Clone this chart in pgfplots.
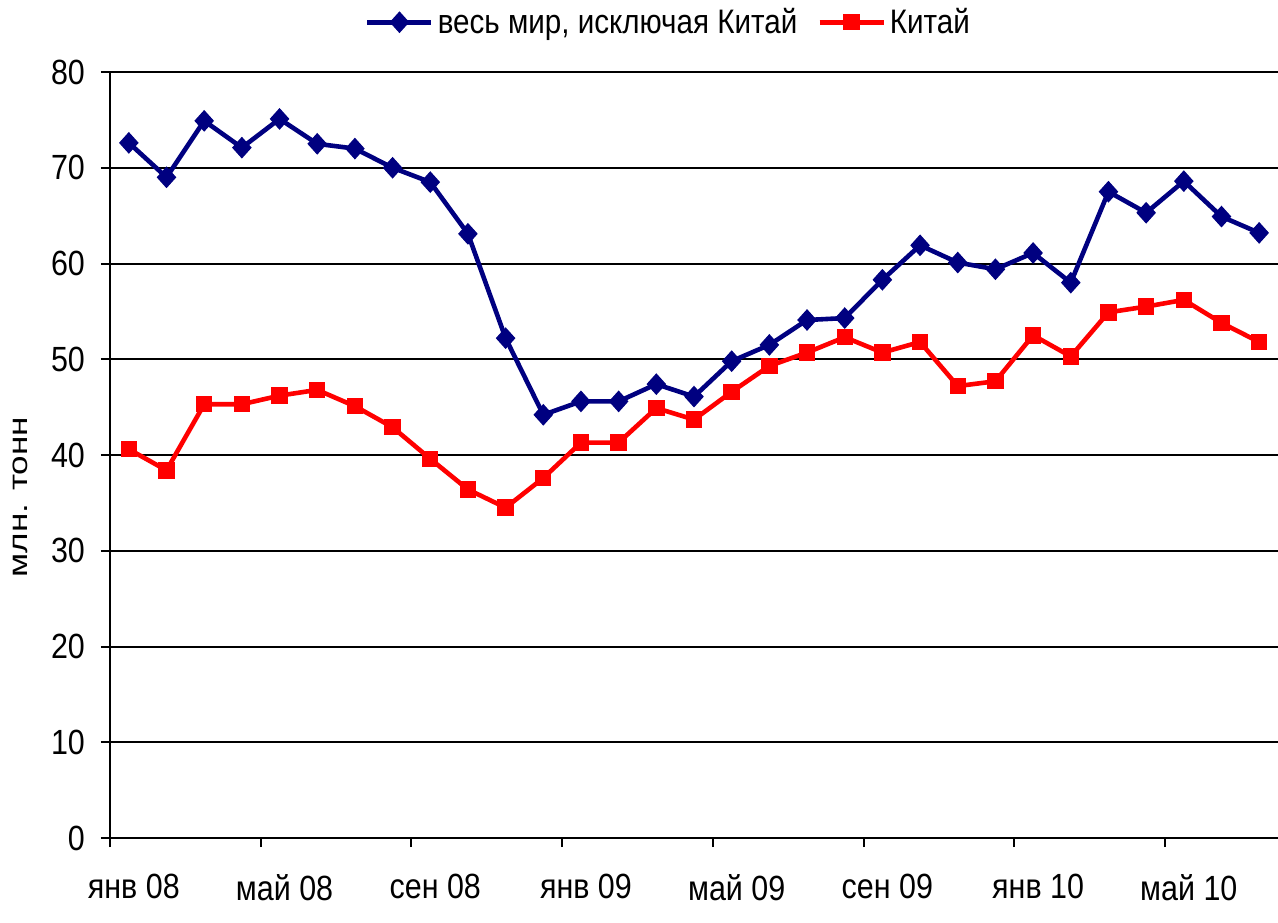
\documentclass[border=0pt]{standalone}
\usepackage{fontspec}
\setmainfont{Liberation Sans}[FakeStretch=0.87]
\newfontfamily\ylabfont{Liberation Sans}[FakeStretch=1.3]
\usepackage{pgfplots}
\pgfplotsset{compat=1.18}
\definecolor{navyb}{HTML}{000080}
\definecolor{redc}{HTML}{FF0000}
\begin{document}
\begin{tikzpicture}
\useasboundingbox (-55pt,-42pt) rectangle (584pt,419pt);
\begin{axis}[
  at={(0,0)}, anchor=south west,
  scale only axis, width=584pt, height=383pt,
  xmin=-0.5, xmax=30.5, ymin=0, ymax=80,
  axis x line=bottom, axis y line=left,
  axis line style={-, black, line width=1pt},
  ytick={0,10,...,80},
  ymajorgrids, grid style={black, line width=1pt},
  xtick={-0.5,3.5,...,27.5}, xticklabels={},
  extra x ticks={0,4,...,28},
  extra x tick labels={янв 08,май 08,сен 08,янв 09,май 09,сен 09,янв 10,май 10},
  extra x tick style={major tick length=0pt, xticklabel style={yshift=-14.5pt, xshift=2.5pt}},
  tick align=outside, major tick length=4.5pt,
  tick style={black, line width=1pt},
  /pgf/number format/assume math mode=true,
  tick label style={font=\fontsize{17.5}{20}\selectfont},
  yticklabel style={xshift=-4.5pt},
  ylabel={\ylabfont\fontsize{13.5}{15}\selectfont млн. тонн},
  ylabel style={at={(axis description cs:-0.077,0.445)}, anchor=center, rotate=0},
  legend style={at={(0.479,1.065)}, anchor=center, draw=none, fill=none,
    font=\fontsize{17}{20}\selectfont, legend columns=2,
    /tikz/every even column/.append style={column sep=8pt}},
  legend image code/.code={
    \draw[mark repeat=2,mark phase=2] plot coordinates {(0pt,0pt) (16pt,0pt) (32pt,0pt)};
  },
  clip=false,
]
\addplot[navyb, line width=2.3pt, mark=diamond*, mark size=5pt, mark options={solid, xscale=1.2, line width=0.6pt}] coordinates {
(0,72.6) (1,69.0) (2,74.9) (3,72.1) (4,75.1) (5,72.5) (6,72.0) (7,70.0) (8,68.5) (9,63.1)
(10,52.2) (11,44.2) (12,45.6) (13,45.6) (14,47.4) (15,46.1) (16,49.8) (17,51.5) (18,54.1) (19,54.3)
(20,58.3) (21,61.9) (22,60.1) (23,59.4) (24,61.1) (25,58.0) (26,67.5) (27,65.3) (28,68.6) (29,64.9) (30,63.2)
};
\addlegendentry{весь мир, исключая Китай}
\addplot[redc, line width=2.3pt, mark=square*, mark size=3.8pt, mark options={solid, line width=0.6pt}] coordinates {
(0,40.6) (1,38.4) (2,45.3) (3,45.3) (4,46.2) (5,46.8) (6,45.1) (7,42.9) (8,39.6) (9,36.4)
(10,34.5) (11,37.6) (12,41.3) (13,41.3) (14,44.9) (15,43.7) (16,46.6) (17,49.3) (18,50.7) (19,52.3)
(20,50.7) (21,51.8) (22,47.2) (23,47.7) (24,52.5) (25,50.3) (26,54.9) (27,55.5) (28,56.2) (29,53.8) (30,51.8)
};
\addlegendentry{Китай}
\end{axis}
\end{tikzpicture}
\end{document}
